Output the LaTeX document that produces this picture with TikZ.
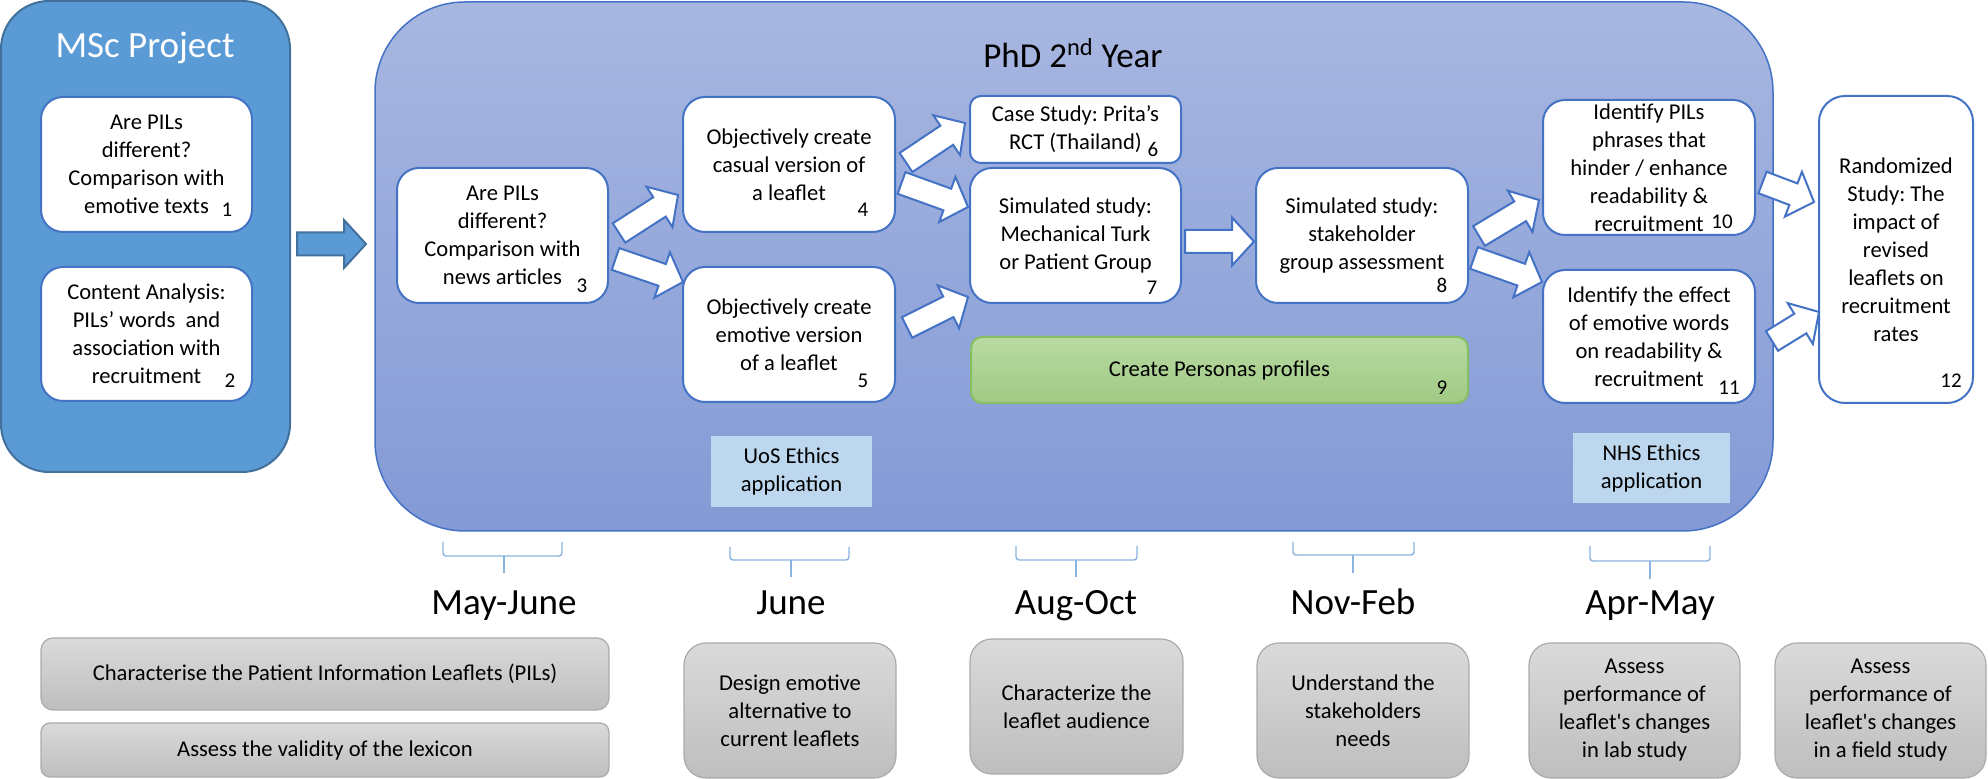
\documentclass[tikz,border=0pt]{standalone}
\usepackage{fontspec}
\setmainfont{Carlito}
\usetikzlibrary{calc}
\frenchspacing
\definecolor{mscblue}{HTML}{5B9BD5}
\definecolor{mscedge}{HTML}{41719C}
\definecolor{acc}{HTML}{4472C4}
\definecolor{phdtop}{HTML}{A8B7E0}
\definecolor{phdbot}{HTML}{839AD6}
\definecolor{ethics}{HTML}{BDD7EE}
\definecolor{grntop}{HTML}{B8DAA2}
\definecolor{grnbot}{HTML}{A1CA85}
\definecolor{grnedge}{HTML}{86BE62}
\definecolor{grytop}{HTML}{DADADA}
\definecolor{grybot}{HTML}{BEBEBE}
\definecolor{gryedge}{HTML}{ABABAB}
\definecolor{bracec}{HTML}{8AB4E0}
\newcommand\blockarrow[3]{%
  \draw[#1] ($(#2)!5.75pt!90:(#3)$)
    -- ($($(#3)!11pt!(#2)$)!5.75pt!-90:(#2)$)
    -- ($($(#3)!11pt!(#2)$)!12pt!-90:(#2)$)
    -- (#3)
    -- ($($(#3)!11pt!(#2)$)!12pt!90:(#2)$)
    -- ($($(#3)!11pt!(#2)$)!5.75pt!90:(#2)$)
    -- ($(#2)!5.75pt!-90:(#3)$) -- cycle;}
\newcommand\timebrace[6]{%
  \draw[bracestyle] (#1,#4) -- (#1,#5) -- (#2,#5) -- (#2,#4);
  \draw[bracestyle] (#3,#5) -- (#3,#6);}
\begin{document}
\frenchspacing
\begin{tikzpicture}[x=0.5pt,y=-0.5pt,
  every node/.style={inner sep=0pt, outer sep=0pt},
  txt/.style={font=\fontsize{11.3}{14}\selectfont, align=center},
  wbox/.style={txt, draw=acc, line width=1pt, fill=white},
  gbox/.style={txt, draw=gryedge, line width=0.6pt, top color=grytop, bottom color=grybot},
  ebox/.style={txt, fill=ethics},
  sz/.style 2 args={minimum width=#1*0.5pt, minimum height=#2*0.5pt},
  rc/.style={rounded corners=#1*0.5pt},
  num/.style={font=\fontsize{10.5}{12}\selectfont, anchor=base},
  month/.style={font=\fontsize{18.5}{22}\selectfont, anchor=base},
  whitearrow/.style={draw=acc, line width=1pt, fill=white, line join=miter},
  bluearrow/.style={draw=mscedge, line width=1pt, fill=mscblue, line join=miter},
  bracestyle/.style={draw=bracec, line width=0.7pt, rounded corners=1.5pt}]
\fill[white] (0,0) rectangle (1988,779);
\useasboundingbox (0,0) rectangle (1988,779);

% MSc project panel
\node[draw=mscedge, line width=1pt, fill=mscblue, sz={289}{471}, rc=48] (msc) at (145.5,236.5) {};
\node[font=\fontsize{18.5}{22}\selectfont, text=white, anchor=base] (msct) at (145,58) {MSc Project};
\node[wbox, sz={211}{135}, rc=22] (b1) at (146.5,164.5) {Are PILs\\different?\\Comparison with\\emotive texts};
\node[num] (n1) at (227,217) {1};
\node[wbox, sz={211}{134}, rc=22] (b2) at (146.5,334) {Content Analysis:\\PILs’ words\ \ and\\association with\\recruitment};
\node[num] (n2) at (230,388) {2};

% PhD panel
\node[draw=acc, line width=0.75pt, top color=phdtop, bottom color=phdbot, sz={1398}{529}, rc=90] (phd) at (1074,266.5) {};
\node[font=\fontsize{17.5}{21}\selectfont, anchor=base] (phdt) at (1073,68) {PhD 2\textsuperscript{nd} Year};

\node[wbox, sz={211}{135}, rc=22] (b3) at (502.5,235.5) {Are PILs\\different?\\Comparison with\\news articles};
\node[num] (n3) at (582,293) {3};
\node[wbox, sz={212}{135}, rc=22] (b4) at (789,164.5) {Objectively create\\casual version of\\a leaflet};
\node[num] (n4) at (863,217) {4};
\node[wbox, sz={212}{135}, rc=22] (b5) at (789,334.5) {Objectively create\\emotive version\\of a leaflet};
\node[num] (n5) at (863,388) {5};
\node[wbox, sz={211}{67}, rc=11] (b6) at (1075.5,129.5) {Case Study: Prita’s\\RCT (Thailand)};
\node[num] (n6) at (1153,157) {6};
\node[wbox, sz={211}{135}, rc=22] (b7) at (1075.5,235.5) {Simulated study:\\Mechanical Turk\\or Patient Group};
\node[num] (n7) at (1152,295) {7};
\node[wbox, sz={212}{135}, rc=22] (b8) at (1362,235.5) {Simulated study:\\stakeholder\\group assessment};
\node[num] (n8) at (1442,293) {8};
\node[txt, draw=grnedge, line width=1pt, top color=grntop, bottom color=grnbot, sz={497}{66}, rc=11] (b9) at (1219.5,370) {Create Personas profiles};
\node[num] (n9) at (1442,395) {9};
\node[wbox, sz={212}{135}, rc=22] (b10) at (1649,167.5) {Identify PILs\\phrases that\\hinder / enhance\\readability \&\\recruitment};
\node[num] (n10) at (1722,229) {10};
\node[wbox, sz={212}{133}, rc=22] (b11) at (1649,336.5) {Identify the effect\\of emotive words\\on readability \&\\recruitment};
\node[num] (n11) at (1729,395) {11};
\node[wbox, sz={154}{307}, rc=26] (b12) at (1896,249.5) {Randomized\\Study: The\\impact of\\revised\\leaflets on\\recruitment\\rates};
\node[num] (n12) at (1951,388) {12};

\node[ebox, sz={161}{71}] (uos) at (791.5,471.5) {UoS Ethics\\application};
\node[ebox, sz={157}{70}] (nhs) at (1651.5,468) {NHS Ethics\\application};

% block arrows
\coordinate (a1t) at (297,244);      \coordinate (a1h) at (366,244);
\coordinate (a34t) at (619,233);     \coordinate (a34h) at (678,195);
\coordinate (a35t) at (615.5,259);   \coordinate (a35h) at (683,282);
\coordinate (a46t) at (906,162.5);   \coordinate (a46h) at (965,123);
\coordinate (a47t) at (901.5,183);   \coordinate (a47h) at (968,207);
\coordinate (a57t) at (907,327.5);   \coordinate (a57h) at (968,297);
\coordinate (a78t) at (1185,241.5);  \coordinate (a78h) at (1254,241.5);
\coordinate (a810t) at (1479,236);   \coordinate (a810h) at (1539,200);
\coordinate (a811t) at (1474,258);   \coordinate (a811h) at (1542,282);
\coordinate (a1012t) at (1762.5,182.5); \coordinate (a1012h) at (1814,202);
\coordinate (a1112t) at (1772,341);  \coordinate (a1112h) at (1819,312);
\blockarrow{bluearrow}{a1t}{a1h}
\blockarrow{whitearrow}{a34t}{a34h}
\blockarrow{whitearrow}{a35t}{a35h}
\blockarrow{whitearrow}{a46t}{a46h}
\blockarrow{whitearrow}{a47t}{a47h}
\blockarrow{whitearrow}{a57t}{a57h}
\blockarrow{whitearrow}{a78t}{a78h}
\blockarrow{whitearrow}{a810t}{a810h}
\blockarrow{whitearrow}{a811t}{a811h}
\blockarrow{whitearrow}{a1012t}{a1012h}
\blockarrow{whitearrow}{a1112t}{a1112h}

% time braces and labels
\timebrace{443}{562}{504}{542}{556}{573}
\timebrace{730}{849}{791}{547}{560}{577}
\timebrace{1016}{1137}{1076}{546}{560}{577}
\timebrace{1293}{1414}{1353}{542}{555}{573}
\timebrace{1590}{1710}{1650}{546}{561}{579}
\node[month] (m1) at (504,615) {May-June};
\node[month] (m2) at (791,615) {June};
\node[month] (m3) at (1076,615) {Aug-Oct};
\node[month] (m4) at (1353,615) {Nov-Feb};
\node[month] (m5) at (1650,615) {Apr-May};

% goals
\node[gbox, sz={568}{72}, rc=12] (g1) at (325,674) {Characterise the Patient Information Leaflets (PILs)};
\node[gbox, sz={568}{54}, rc=9] (g2) at (325,750) {Assess the validity of the lexicon};
\node[gbox, sz={212}{135}, rc=22] (g3) at (790,710.5) {Design emotive\\alternative to\\current leaflets};
\node[gbox, sz={213}{135}, rc=22] (g4) at (1076.5,706.5) {Characterize the\\leaflet audience};
\node[gbox, sz={212}{135}, rc=22] (g5) at (1363,710.5) {Understand the\\stakeholders\\needs};
\node[gbox, sz={211}{135}, rc=22] (g6) at (1634.5,710.5) {Assess\\performance of\\leaflet\textquotesingle s changes\\in lab study};
\node[gbox, sz={211}{135}, rc=22] (g7) at (1880.5,710.5) {Assess\\performance of\\leaflet\textquotesingle s changes\\in a field study};
\end{tikzpicture}
\end{document}
